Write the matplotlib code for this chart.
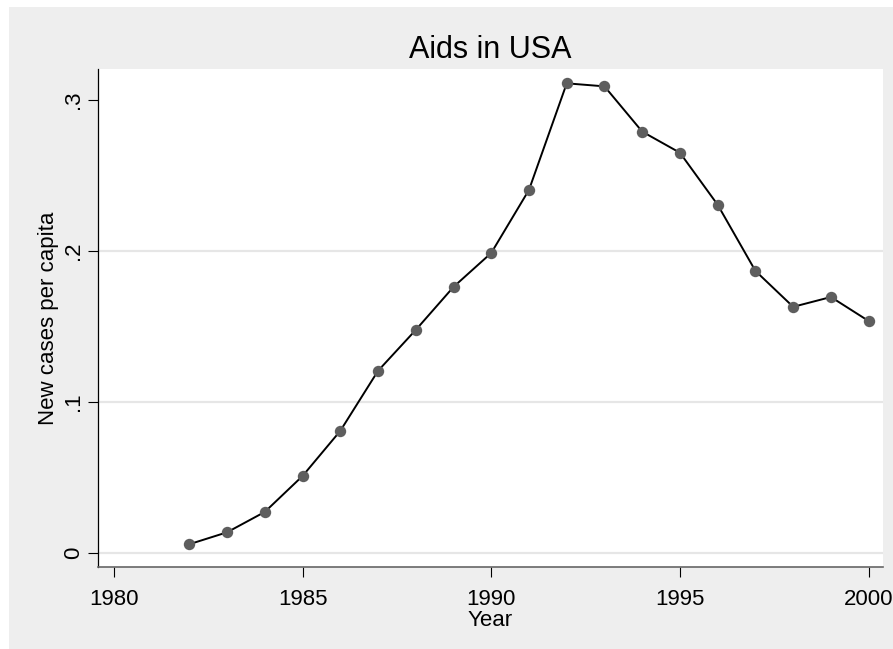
import matplotlib
matplotlib.use("Agg")
import matplotlib.pyplot as plt
from matplotlib.patches import Rectangle

matplotlib.rcParams['font.family'] = ['Liberation Sans', 'DejaVu Sans']

# values
years = [1982, 1983, 1984, 1985, 1986, 1987, 1988, 1989, 1990, 1991,
         1992, 1993, 1994, 1995, 1996, 1997, 1998, 1999, 2000]
cases = [0.0056, 0.0135, 0.027, 0.0508, 0.0807, 0.1205, 0.1476, 0.1761,
         0.1986, 0.2404, 0.311, 0.309, 0.279, 0.265, 0.2305, 0.1867,
         0.1629, 0.1694, 0.1535]
x_ticks = [1980, 1985, 1990, 1995, 2000]
y_ticks = [0, 0.1, 0.2, 0.3]
y_tick_labels = ['0', '.1', '.2', '.3']
grid_values = [0, 0.1, 0.2]

fig = plt.figure(figsize=(8.93, 6.49), dpi=100, facecolor='white')
# Stata-like grey backdrop, kept behind the axes
fig.add_artist(Rectangle((9 / 893, 0), 1, 1 - 7 / 649, transform=fig.transFigure,
                         facecolor='#eeeeee', edgecolor='none', zorder=-10))

ax = fig.add_axes([98 / 893, 1 - 567 / 649, (883 - 98) / 893, (567 - 69) / 649])
ax.set_zorder(1)
ax.set_facecolor('white')

for g in grid_values:
    ax.axhline(g, color='#e6e6e6', lw=1.6, zorder=1)

ax.plot(years, cases, color='black', lw=1.4, zorder=2)
ax.plot(years, cases, 'o', color='#5e5e5e', markersize=8.2, markeredgewidth=0, zorder=3)

ax.set_xlim(1979.58, 2000.38)
ax.set_ylim(-0.0095, 0.3205)
ax.set_xticks(x_ticks)
ax.set_yticks(y_ticks)
ax.set_yticklabels(y_tick_labels, rotation=90, va='center')

ax.spines['top'].set_visible(False)
ax.spines['right'].set_visible(False)
ax.spines['left'].set_color('black')
ax.spines['left'].set_linewidth(0.9)
ax.spines['bottom'].set_color('#666666')
ax.spines['bottom'].set_linewidth(1.2)
ax.tick_params(axis='both', length=7, width=0.8, labelsize=16, color='black')
ax.tick_params(axis='x', pad=9)
ax.tick_params(axis='y', pad=3)

ax.set_xlabel('Year', fontsize=16, labelpad=0)
ax.set_ylabel('New cases per capita', fontsize=16, labelpad=3)
ax.set_title('Aids in USA', fontsize=22, pad=8)

fig.savefig('out.png', dpi=100, facecolor=fig.get_facecolor())
